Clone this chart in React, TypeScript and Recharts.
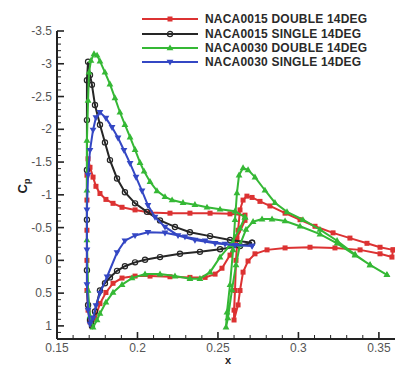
import { ScatterChart, Scatter, XAxis, YAxis, Legend } from 'recharts';

/* Cp 분포 — 주익(0.17~0.27)과 후익(0.255~0.358). 각 배열은 TE(윗면) → LE → TE(아랫면) 순서 [x, Cp]. */
type Pt = [number, number];

const n15DoubleMain: Pt[] = [
  [0.2668, -0.69], [0.2575, -0.71], [0.2451, -0.72], [0.2326, -0.72], [0.2202, -0.72], [0.2078, -0.73],
  [0.1985, -0.77], [0.1904, -0.81], [0.1848, -0.87], [0.1804, -0.93], [0.1767, -1.02], [0.1742, -1.13],
  [0.1724, -1.27], [0.1705, -1.42], [0.1693, -1.55], [0.1686, -1.3], [0.1686, -0.92], [0.1686, -0.46],
  [0.1686, 0.0], [0.1686, 0.46], [0.1693, 0.76], [0.1705, 0.94], [0.1717, 1.0], [0.1736, 0.88],
  [0.1767, 0.66], [0.1804, 0.49], [0.1848, 0.35], [0.1904, 0.27], [0.1985, 0.24], [0.2078, 0.24],
  [0.2202, 0.25], [0.2326, 0.26], [0.242, 0.26], [0.2482, 0.21], [0.2525, 0.12], [0.2575, -0.08],
  [0.2618, -0.34], [0.2668, -0.61],
];
const n15DoubleFlap: Pt[] = [
  [0.3588, -0.16], [0.3507, -0.2], [0.3426, -0.26], [0.332, -0.34], [0.3215, -0.42], [0.3103, -0.52],
  [0.301, -0.62], [0.2917, -0.72], [0.2823, -0.83], [0.2761, -0.9], [0.2712, -0.96], [0.268, -0.98],
  [0.2656, -0.92], [0.2637, -0.77], [0.2625, -0.46], [0.2612, 0.0], [0.2606, 0.46], [0.26, 0.76],
  [0.26, 0.91], [0.2625, 0.68], [0.2637, 0.46], [0.2656, 0.18], [0.2687, 0.01], [0.273, -0.1],
  [0.2805, -0.16], [0.2917, -0.19], [0.3072, -0.2], [0.3227, -0.19], [0.3383, -0.16], [0.3507, -0.1],
  [0.3581, -0.05], [0.3588, -0.16],
];
const n15SingleMain: Pt[] = [
  [0.2712, -0.27], [0.2575, -0.31], [0.2451, -0.37], [0.2326, -0.43], [0.2233, -0.51], [0.214, -0.61],
  [0.2059, -0.74], [0.1985, -0.87], [0.1922, -1.04], [0.1873, -1.25], [0.1829, -1.53], [0.1798, -1.8],
  [0.1767, -2.07], [0.1736, -2.37], [0.1717, -2.68], [0.1705, -2.83], [0.1693, -3.03], [0.1686, -2.75],
  [0.1686, -2.14], [0.1686, -1.38], [0.1686, -0.62], [0.1686, 0.15], [0.1693, 0.68], [0.1705, 0.91],
  [0.1717, 1.0], [0.1736, 0.78], [0.1767, 0.46], [0.1798, 0.35], [0.1829, 0.26], [0.1873, 0.16],
  [0.1922, 0.09], [0.1985, 0.03], [0.2047, -0.01], [0.214, -0.05], [0.2264, -0.1], [0.2388, -0.13],
  [0.2513, -0.17], [0.2637, -0.22], [0.2712, -0.27],
];
const n30DoubleMain: Pt[] = [
  [0.2668, -0.66], [0.2606, -0.75], [0.2513, -0.78], [0.2432, -0.81], [0.2357, -0.85], [0.2283, -0.88],
  [0.2215, -0.92], [0.2171, -0.97], [0.2121, -1.06], [0.2078, -1.2], [0.2041, -1.36], [0.2016, -1.49],
  [0.1985, -1.69], [0.1954, -1.88], [0.1922, -2.07], [0.1891, -2.26], [0.186, -2.48], [0.1829, -2.69],
  [0.1798, -2.87], [0.1767, -3.04], [0.1749, -3.13], [0.173, -3.15], [0.1711, -3.05], [0.1699, -2.87],
  [0.1693, -2.44], [0.1686, -1.83], [0.1686, -1.07], [0.1686, -0.31], [0.1693, 0.46], [0.1705, 0.85],
  [0.1724, 1.02], [0.1749, 0.91], [0.1767, 0.81], [0.1804, 0.64], [0.1848, 0.49], [0.1904, 0.37],
  [0.1966, 0.27], [0.2047, 0.21], [0.214, 0.21], [0.2233, 0.24], [0.2326, 0.28], [0.2388, 0.28],
  [0.2451, 0.18], [0.2513, -0.05], [0.2575, -0.23], [0.2637, -0.49], [0.2668, -0.66],
];
const n30DoubleFlap: Pt[] = [
  [0.355, 0.22], [0.3445, 0.07], [0.3352, -0.09], [0.324, -0.3], [0.3134, -0.47], [0.3028, -0.62],
  [0.2929, -0.74], [0.2854, -0.88], [0.2792, -1.07], [0.273, -1.27], [0.2687, -1.38], [0.2656, -1.41],
  [0.2631, -1.3], [0.2618, -1.03], [0.2606, -0.62], [0.2594, -0.16], [0.2575, 0.37], [0.2556, 0.79],
  [0.255, 1.02], [0.2562, 0.88], [0.2587, 0.45], [0.2612, 0.07], [0.2637, -0.24], [0.2674, -0.47],
  [0.2718, -0.59], [0.2774, -0.63], [0.2836, -0.63], [0.2917, -0.6], [0.301, -0.52], [0.3134, -0.4],
  [0.324, -0.26], [0.3352, -0.08], [0.3445, 0.07], [0.355, 0.22],
];
const n30SingleMain: Pt[] = [
  [0.2712, -0.22], [0.2606, -0.23], [0.2482, -0.26], [0.2357, -0.31], [0.2252, -0.38], [0.2171, -0.51],
  [0.2109, -0.66], [0.2065, -0.84], [0.2028, -1.06], [0.1991, -1.27], [0.1954, -1.48], [0.1916, -1.68],
  [0.1879, -1.87], [0.1842, -2.03], [0.1804, -2.17], [0.1767, -2.26], [0.1742, -2.18], [0.1724, -1.99],
  [0.1705, -1.68], [0.1693, -1.3], [0.1686, -0.77], [0.1686, -0.16], [0.1686, 0.37], [0.1693, 0.76],
  [0.1705, 0.97], [0.1724, 0.88], [0.1742, 0.69], [0.1767, 0.5], [0.1811, 0.25], [0.1873, -0.12],
  [0.1922, -0.3], [0.1985, -0.38], [0.2065, -0.43], [0.2171, -0.42], [0.2295, -0.36], [0.242, -0.3],
  [0.2544, -0.25], [0.2712, -0.22],
];

const legendNames = ['NACA0015 DOUBLE 14DEG', 'NACA0015 SINGLE 14DEG', 'NACA0030 DOUBLE 14DEG', 'NACA0030 SINGLE 14DEG'];

const xTicks = [0.15, 0.2, 0.25, 0.3, 0.35];
const xTickLabels = ['0.15', '0.2', '0.25', '0.3', '0.35'];
const yTicks = [-3.5, -3, -2.5, -2, -1.5, -1, -0.5, 0, 0.5, 1];
const yTickLabels = ['-3.5', '-3', '-2.5', '-2', '-1.5', '-1', '-0.5', '0', '0.5', '1'];

const RED = '#dc3232';
const BLACK = '#262626';
const GREEN = '#35b835';
const BLUE = '#3447c4';
const AXIS = '#222';
const FONT = '"Liberation Sans", Arial, sans-serif';

// 보조 눈금: x 0.01, y 0.1 간격
const xMinor = Array.from({ length: 21 }, (_, i) => +(0.15 + i * 0.01).toFixed(2));
const yMinor = Array.from({ length: 47 }, (_, i) => +(-3.5 + i * 0.1).toFixed(1));

const toRows = (pts: Pt[]) => pts.map(([x, cp]) => ({ x, cp }));

type Mk = 'square' | 'circle' | 'up' | 'down';
const Marker = ({ cx, cy, kind, color }: { cx: number; cy: number; kind: Mk; color: string }) => {
  if (kind === 'square') return <rect x={cx - 2.5} y={cy - 2.5} width={5} height={5} fill={color} />;
  if (kind === 'circle') return <circle cx={cx} cy={cy} r={2.6} fill="none" stroke={color} strokeWidth={1.2} />;
  if (kind === 'up') return <path d={`M${cx},${cy - 3.6}L${cx + 3.4},${cy + 2.3}L${cx - 3.4},${cy + 2.3}Z`} fill={color} />;
  return <path d={`M${cx},${cy + 3.6}L${cx + 3.4},${cy - 2.3}L${cx - 3.4},${cy - 2.3}Z`} fill={color} />;
};

const XTick = (p: any) => {
  const { x, y, payload } = p;
  const i = xTicks.findIndex((t) => Math.abs(t - payload.value) < 1e-6);
  return (
    <g>
      <line x1={x} x2={x} y1={y} y2={y - (i >= 0 ? 7 : 4)} stroke={AXIS} strokeWidth={i >= 0 ? 1.6 : 1} />
      {i >= 0 && (
        <text x={x} y={y + 13} textAnchor="middle" fontSize={12} fill="#555" fontFamily={FONT}>
          {xTickLabels[i]}
        </text>
      )}
    </g>
  );
};

const YTick = (p: any) => {
  const { x, y, payload } = p;
  const i = yTicks.findIndex((t) => Math.abs(t - payload.value) < 1e-6);
  return (
    <g>
      <line x1={x} x2={x + (i >= 0 ? 7 : 4)} y1={y} y2={y} stroke={AXIS} strokeWidth={i >= 0 ? 1.6 : 1} />
      {i >= 0 && (
        <text x={x - 5} y={y + 4} textAnchor="end" fontSize={12} fill="#555" fontFamily={FONT}>
          {yTickLabels[i]}
        </text>
      )}
    </g>
  );
};

const series: { data: Pt[]; color: string; kind: Mk }[] = [
  { data: n15DoubleMain, color: RED, kind: 'square' },
  { data: n15DoubleFlap, color: RED, kind: 'square' },
  { data: n15SingleMain, color: BLACK, kind: 'circle' },
  { data: n30DoubleMain, color: GREEN, kind: 'up' },
  { data: n30DoubleFlap, color: GREEN, kind: 'up' },
  { data: n30SingleMain, color: BLUE, kind: 'down' },
];
const legendStyle: { color: string; kind: Mk }[] = [
  { color: RED, kind: 'square' },
  { color: BLACK, kind: 'circle' },
  { color: GREEN, kind: 'up' },
  { color: BLUE, kind: 'down' },
];

const LegendBox = () => (
  <div style={{ fontFamily: FONT }}>
    {legendNames.map((name, i) => (
      <div key={name} style={{ display: 'flex', alignItems: 'center', height: 14.4 }}>
        <svg width={56} height={10} style={{ display: 'block' }}>
          <line x1={0} x2={56} y1={5} y2={5} stroke={legendStyle[i].color} strokeWidth={2} />
          <Marker cx={28} cy={5} kind={legendStyle[i].kind} color={legendStyle[i].color} />
        </svg>
        <span style={{ marginLeft: 7, fontSize: 12, fontWeight: 'bold', color: '#2a2a2a', whiteSpace: 'nowrap', letterSpacing: 0.2 }}>
          {name}
        </span>
      </div>
    ))}
  </div>
);

export default function App() {
  return (
    <div style={{ position: 'absolute', left: 0, top: 0, background: '#fff' }}>
      <ScatterChart width={395} height={365} margin={{ top: 31, right: 0, bottom: 0, left: 0 }}>
        <XAxis
          type="number"
          dataKey="x"
          domain={[0.15, 0.36]}
          ticks={xMinor}
          interval={0}
          allowDataOverflow
          height={26}
          tickSize={0}
          tickMargin={0}
          tickLine={false}
          tick={XTick}
          axisLine={{ stroke: AXIS, strokeWidth: 2 }}
        />
        <YAxis
          type="number"
          dataKey="cp"
          domain={[-3.5, 1.2]}
          reversed
          ticks={yMinor}
          interval={0}
          allowDataOverflow
          width={57}
          tickSize={0}
          tickMargin={0}
          tickLine={false}
          tick={YTick}
          axisLine={{ stroke: AXIS, strokeWidth: 2 }}
        />
        <Legend
          layout="vertical"
          align="center"
          verticalAlign="middle"
          content={LegendBox}
          wrapperStyle={{ position: 'absolute', left: 142, top: 12, width: 'auto', height: 'auto' }}
        />
        {series.map((s, k) => (
          <Scatter
            key={k}
            data={toRows(s.data)}
            line={{ stroke: s.color, strokeWidth: 2 }}
            lineType="joint"
            shape={(p: any) => <Marker cx={p.cx} cy={p.cy} kind={s.kind} color={s.color} />}
            isAnimationActive={false}
          />
        ))}
        <text x={228} y={363.5} textAnchor="middle" fontSize={11} fontWeight="bold" fill="#222" fontFamily={FONT}>
          x
        </text>
        <text x={27} y={186} transform="rotate(-90 27 186)" textAnchor="middle" fontSize={13} fontWeight="bold" fill="#222" fontFamily={FONT}>
          C<tspan fontSize={9} dy={3}>p</tspan>
        </text>
      </ScatterChart>
    </div>
  );
}
